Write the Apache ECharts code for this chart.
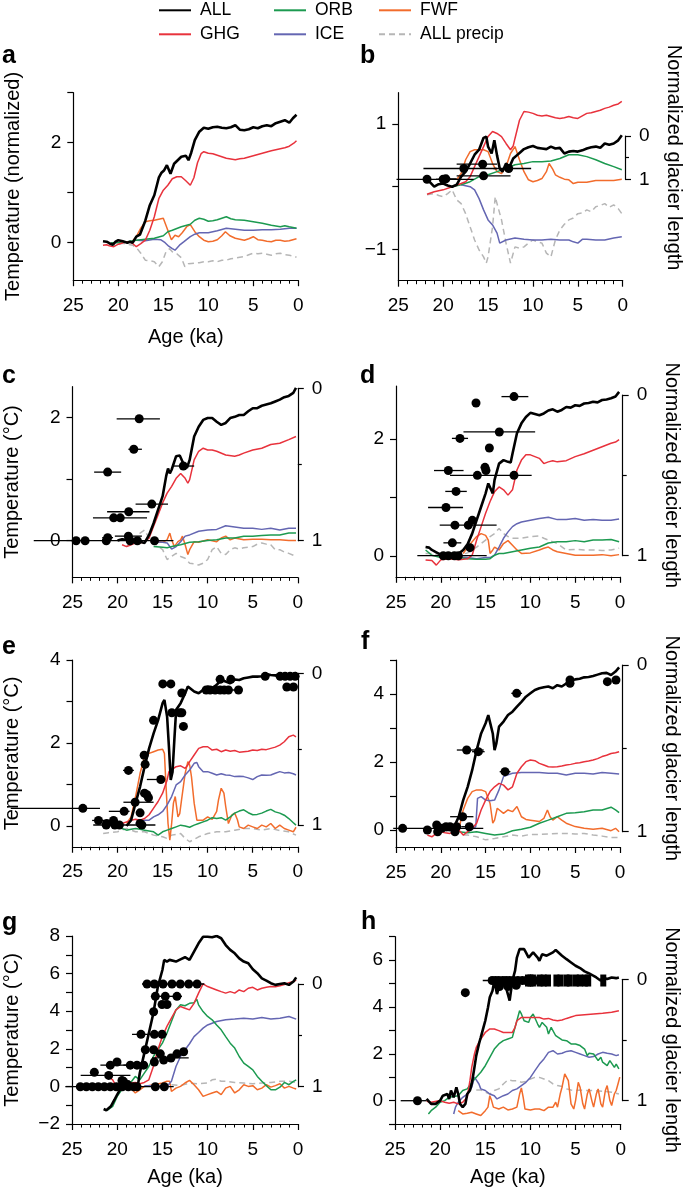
<!DOCTYPE html>
<html><head><meta charset="utf-8">
<script src="https://cdn.jsdelivr.net/npm/echarts@6/dist/echarts.min.js"></script>
<style>html,body{margin:0;padding:0;background:#fff}#c{width:685px;height:1188px}</style>
</head><body><div id="c"></div>
<script>
// ---------------- DATA: [age (ka), value] ----------------
const a_ALL=[[21.7,0.03],[21.3,0.02],[21,-0.01],[20.6,-0.04],[20.3,0.02],[20,0.05],[19.5,0.03],[19,0.0],[18.7,0.02],[18.4,0.0],[18,0.12],[17.6,0.16],[17.3,0.3],[17,0.44],[16.5,0.75],[16,0.95],[15.5,1.3],[15.2,1.4],[14.9,1.45],[14.6,1.55],[14.2,1.38],[13.8,1.58],[13.4,1.65],[13,1.72],[12.5,1.74],[12.2,1.65],[11.9,1.8],[11.5,2.05],[11,2.22],[10.5,2.3],[10,2.28],[9.5,2.31],[9,2.32],[8.5,2.3],[8,2.29],[7.5,2.31],[7,2.35],[6.5,2.26],[6,2.25],[5.5,2.27],[5,2.31],[4.5,2.29],[4,2.33],[3.5,2.35],[3,2.33],[2.5,2.39],[2,2.42],[1.5,2.45],[1,2.4],[0.6,2.49],[0.2,2.56]];
const a_GHG=[[21.7,-0.05],[21.3,-0.04],[21,-0.06],[20.5,-0.08],[20,-0.03],[19.5,0],[19,0.02],[18.5,0],[18,-0.08],[17.5,-0.02],[17,0.05],[16.5,0.25],[16,0.52],[15.5,0.88],[15,1.05],[14.5,1.15],[14,1.28],[13.5,1.32],[13,1.32],[12.5,1.24],[12,1.15],[11.6,1.3],[11.2,1.6],[10.8,1.78],[10.5,1.82],[10,1.79],[9.5,1.78],[9,1.75],[8.5,1.72],[8,1.69],[7,1.66],[6.5,1.68],[6,1.69],[5,1.74],[4,1.79],[3,1.84],[2,1.88],[1.5,1.9],[1,1.93],[0.5,1.99],[0.2,2.04]];
const a_ORB=[[20.8,0.0],[20,0.0],[19,0.02],[18,0.05],[17,0.07],[16,0.09],[15,0.14],[14.5,0.22],[14,0.25],[13,0.32],[12,0.37],[11.5,0.45],[11,0.49],[10.5,0.47],[10,0.43],[9.5,0.44],[9,0.46],[8.5,0.49],[8,0.52],[7.5,0.48],[7,0.46],[6,0.45],[5,0.42],[4,0.39],[3,0.35],[2,0.32],[1.5,0.34],[1,0.32],[0.2,0.29]];
const a_ICE=[[18,0.05],[17,0.04],[16,0.07],[15.3,0.06],[14.8,0.0],[14.4,-0.07],[14,-0.12],[13.7,-0.15],[13.2,-0.05],[12.7,0.02],[12,0.12],[11.5,0.17],[11,0.2],[10,0.2],[9,0.24],[8,0.29],[7,0.27],[6,0.25],[5,0.25],[4,0.26],[3,0.26],[2,0.27],[1,0.29],[0.2,0.29]];
const a_FWF=[[18.6,0.0],[18,0.12],[17.5,0.29],[17,0.42],[16.5,0.44],[16,0.45],[15.5,0.47],[15,0.49],[14.8,0.45],[14.5,0.25],[14.1,0.06],[13.7,0.15],[13.3,0.12],[12.9,0.2],[12.4,0.32],[12,0.36],[11.5,0.22],[11,0.12],[10.5,0.05],[10,0.02],[9.5,0.03],[9,0.06],[8.5,0.14],[8.1,0.22],[7.6,0.14],[7,0.09],[6.5,0.07],[6,0.05],[5.5,0.08],[5,0.12],[4.5,0.06],[4,0.05],[3.5,0.03],[3,0.02],[2.5,0.05],[2,0.05],[1.5,0.03],[1,0.04],[0.2,0.08]];
const a_PRE=[[21,-0.02],[20.3,-0.05],[19.5,-0.01],[19,-0.03],[18.4,-0.05],[17.9,-0.12],[17.5,-0.21],[17,-0.35],[16.5,-0.36],[16,-0.38],[15.5,-0.48],[15.1,-0.38],[14.7,-0.18],[14.3,-0.12],[14,-0.18],[13.5,-0.22],[13,-0.3],[12.6,-0.48],[12.2,-0.42],[11.5,-0.41],[11,-0.4],[10.5,-0.38],[10,-0.38],[9.5,-0.36],[9,-0.38],[8.5,-0.35],[8,-0.35],[7.5,-0.32],[7,-0.31],[6.5,-0.29],[6,-0.28],[5.5,-0.24],[5,-0.21],[4.5,-0.22],[4,-0.21],[3.5,-0.23],[3,-0.25],[2.5,-0.22],[2,-0.21],[1.5,-0.24],[1,-0.25],[0.5,-0.27],[0.2,-0.29]];

const b_ALL=[[21.8,0.12],[21.4,0.06],[21,0.0],[20.5,0.04],[20,0.05],[19.5,0.02],[19,0.0],[18.5,0.03],[18,0.16],[17.5,0.24],[17,0.37],[16.5,0.51],[16,0.59],[15.5,0.78],[15.2,0.8],[15,0.64],[14.6,0.53],[14.3,0.74],[14,0.5],[13.7,0.29],[13.4,0.24],[13,0.37],[12.6,0.32],[12.2,0.45],[11.8,0.5],[11.4,0.55],[11,0.6],[10.5,0.63],[10,0.65],[9.5,0.62],[9,0.61],[8.5,0.6],[8,0.64],[7.5,0.61],[7,0.62],[6.5,0.53],[6,0.56],[5.5,0.57],[5,0.56],[4.5,0.58],[4,0.61],[3.5,0.63],[3,0.64],[2.5,0.62],[2,0.69],[1.5,0.67],[1,0.69],[0.5,0.74],[0.1,0.82]];
const b_GHG=[[21.8,-0.12],[21,-0.08],[20,-0.05],[19,0.0],[18,0.05],[17.5,0.08],[17,0.16],[16.5,0.32],[16,0.48],[15.5,0.64],[15,0.8],[14.5,0.88],[14,0.85],[13.5,0.8],[13,0.69],[12.5,0.59],[12.2,0.65],[12,0.77],[11.5,1.06],[11,1.2],[10.5,1.19],[10,1.17],[9.5,1.14],[9,1.13],[8.5,1.14],[8,1.12],[7.5,1.1],[7,1.09],[6.5,1.1],[6,1.12],[5.5,1.1],[5,1.09],[4.5,1.13],[4,1.17],[3.5,1.18],[3,1.2],[2.5,1.22],[2,1.25],[1.5,1.27],[1,1.3],[0.5,1.32],[0.1,1.36]];
const b_ORB=[[19,0],[18,0.03],[17,0.08],[16,0.16],[15,0.19],[14,0.24],[13,0.29],[12,0.35],[11,0.37],[10,0.4],[9,0.4],[8,0.41],[7,0.45],[6,0.51],[5,0.51],[4,0.48],[3,0.43],[2,0.37],[1,0.32],[0.1,0.27]];
const b_ICE=[[18,0.03],[17,0.0],[16.5,-0.05],[16,-0.19],[15.5,-0.37],[15,-0.53],[14.5,-0.61],[14,-0.74],[13.7,-0.9],[13,-0.85],[12,-0.82],[11,-0.84],[10,-0.85],[9,-0.85],[8,-0.84],[7,-0.85],[6,-0.85],[5.5,-0.88],[5,-0.9],[4.5,-0.84],[4,-0.84],[3,-0.85],[2,-0.85],[1,-0.82],[0.1,-0.8]];
const b_FWF=[[18.5,0.11],[18,0.21],[17.5,0.43],[17,0.56],[16.5,0.59],[16,0.59],[15.5,0.59],[15,0.56],[14.5,0.37],[14,0.24],[13.5,0.21],[13,0.32],[12.5,0.53],[12,0.64],[11.5,0.43],[11,0.24],[10.5,0.11],[10,0.08],[9.5,0.1],[9,0.13],[8.5,0.24],[8.2,0.37],[7.8,0.28],[7.5,0.19],[7,0.15],[6.5,0.12],[6,0.11],[5.5,0.05],[5,0.07],[4,0.07],[3,0.1],[2,0.1],[1,0.1],[0.1,0.12]];
const b_PRE=[[21.8,-0.13],[21,-0.11],[20.5,-0.14],[20,-0.16],[19.5,-0.11],[19,-0.05],[18.5,-0.21],[18,-0.27],[17.5,-0.43],[17,-0.64],[16.5,-0.85],[16,-1.01],[15.5,-1.12],[15.2,-1.22],[15,-1.12],[14.5,-0.64],[14.2,-0.16],[14,-0.27],[13.5,-0.53],[13,-0.9],[12.5,-1.22],[12,-0.96],[11.5,-0.98],[11,-0.96],[10.5,-0.9],[10,-0.85],[9.5,-0.88],[9,-0.9],[8.5,-1.06],[8,-1.12],[7.5,-0.85],[7,-0.69],[6.5,-0.6],[6,-0.53],[5.5,-0.5],[5,-0.43],[4.5,-0.42],[4,-0.37],[3.5,-0.4],[3,-0.32],[2.5,-0.3],[2,-0.27],[1.5,-0.33],[1,-0.29],[0.5,-0.35],[0.1,-0.43]];

const c_ALL=[[20,0.0],[19.5,0.02],[19,0.01],[18.5,0.0],[18,0.0],[17.5,-0.02],[17,-0.04],[16.5,0.09],[16,0.28],[15.5,0.5],[15,0.72],[14.6,1.05],[14.4,1.17],[14.2,1.09],[14,1.15],[13.5,1.37],[13.1,1.38],[12.7,1.25],[12.3,1.18],[12,1.31],[11.5,1.69],[11,1.85],[10.5,1.96],[10,1.99],[9.5,1.99],[9,1.93],[8.5,1.88],[8,1.91],[7.5,1.99],[7,2.01],[6.5,2.04],[6,2.04],[5.5,2.1],[5,2.15],[4.5,2.15],[4,2.19],[3.5,2.21],[3,2.23],[2.5,2.26],[2,2.29],[1.5,2.33],[1,2.35],[0.5,2.4],[0.2,2.48]];
const c_GHG=[[19.5,-0.07],[19,-0.1],[18.5,-0.07],[18,-0.04],[17,-0.03],[16.5,0.04],[16,0.23],[15.5,0.42],[15,0.61],[14.5,0.77],[14,0.88],[13.5,1.01],[13,1.09],[12.5,1.01],[12.2,0.93],[12,0.99],[11.5,1.31],[11,1.45],[10.5,1.5],[10,1.47],[9.5,1.47],[9,1.45],[8,1.39],[7,1.37],[6.5,1.39],[6,1.42],[5,1.47],[4,1.5],[3,1.56],[2,1.58],[1,1.64],[0.2,1.69]];
const c_ORB=[[16,-0.1],[15,-0.11],[14.5,-0.12],[14,-0.1],[13,-0.07],[12,-0.03],[11,-0.02],[10,0],[9,0.01],[8,0.04],[7,0.04],[6,0.07],[5,0.07],[4,0.08],[3,0.09],[2,0.09],[1,0.12],[0.2,0.12]];
const c_ICE=[[16,-0.02],[15,-0.03],[14.5,-0.04],[14,-0.14],[13.5,-0.1],[13,-0.02],[12.5,0.07],[12,0.09],[11,0.15],[10,0.17],[9,0.18],[8,0.24],[7,0.22],[6,0.2],[5,0.2],[4,0.18],[3,0.2],[2,0.17],[1,0.2],[0.2,0.2]];
const c_FWF=[[16,-0.02],[15,-0.03],[14.5,0.01],[14.2,0.12],[14,0.01],[13.7,-0.1],[13.3,-0.02],[13,0.01],[12.8,0.07],[12.5,-0.07],[12.2,-0.23],[12,-0.15],[11.5,-0.02],[11,-0.03],[10,0.01],[9,-0.02],[8.5,0.04],[8,0.07],[7.5,0.01],[7,0.04],[6,0.01],[5,0.02],[4,0.02],[3,0.01],[2,0.01],[1,0.0],[0.2,0.0]];
const c_PRE=[[19,-0.1],[18.5,0.01],[18,0.01],[17.5,0.12],[17,0.17],[16.5,0.04],[16,-0.04],[15,-0.15],[14.5,-0.31],[14,-0.26],[13.5,-0.21],[13,-0.26],[12.5,-0.29],[12,-0.37],[11.5,-0.38],[11,-0.4],[10.5,-0.37],[10,-0.31],[9.5,-0.15],[9,-0.1],[8.5,-0.21],[8,-0.23],[7.5,-0.15],[7,-0.12],[6.5,-0.14],[6,-0.12],[5.5,-0.11],[5,-0.1],[4.5,-0.06],[4,-0.04],[3.5,-0.06],[3,-0.07],[2.5,-0.15],[2,-0.15],[1.5,-0.19],[1,-0.21],[0.5,-0.24],[0.2,-0.26]];

const d_ALL=[[21.7,0.15],[21.3,0.14],[21,0.1],[20.5,0.06],[20,0.02],[19.5,0.01],[19,0.0],[18.5,0.01],[18,0.04],[17.5,0.1],[17,0.2],[16.5,0.38],[16,0.61],[15.5,0.84],[15,1.07],[14.7,1.24],[14.5,1.27],[14.2,1.07],[14,1.3],[13.5,1.58],[13,1.64],[12.5,1.61],[12.2,1.6],[12,1.75],[11.5,2.1],[11,2.27],[10.5,2.38],[10,2.45],[9.5,2.43],[9,2.41],[8.5,2.44],[8,2.49],[7.5,2.51],[7,2.47],[6.5,2.5],[6,2.55],[5.5,2.54],[5,2.58],[4.5,2.57],[4,2.61],[3.5,2.62],[3,2.64],[2.5,2.63],[2,2.67],[1.5,2.68],[1,2.7],[0.5,2.73],[0.1,2.81]];
const d_GHG=[[21.7,-0.07],[21,-0.08],[20.5,-0.16],[20,-0.07],[19,-0.05],[18,-0.07],[17,-0.05],[16.5,0.01],[16,0.27],[15.5,0.5],[15,0.73],[14.5,0.93],[14,1.1],[13.5,1.18],[13,1.13],[12.5,1.04],[12,1.13],[11.5,1.47],[11,1.64],[10.5,1.73],[10,1.73],[9.5,1.7],[9,1.67],[8.5,1.58],[8,1.61],[7.5,1.63],[7,1.61],[6,1.63],[5,1.7],[4,1.75],[3,1.81],[2,1.87],[1,1.93],[0.5,1.95],[0.1,1.99]];
const d_ORB=[[21.7,0.1],[21,0.01],[20,-0.03],[19,-0.05],[18,-0.03],[17,-0.05],[16,-0.06],[15,-0.06],[14.5,-0.05],[14,0.01],[13.5,0.04],[13,0.04],[12,0.07],[11,0.1],[10,0.13],[9,0.15],[8,0.22],[7,0.24],[6,0.24],[5,0.26],[4,0.24],[3,0.27],[2,0.27],[1,0.28],[0.1,0.24]];
const d_ICE=[[18,-0.02],[17,-0.03],[16,-0.05],[15,-0.03],[14.5,-0.03],[14,0.01],[13.5,0.15],[13,0.3],[12.5,0.41],[12,0.5],[11.5,0.55],[11,0.58],[10,0.61],[9,0.64],[8,0.66],[7,0.62],[6,0.62],[5,0.64],[4,0.61],[3,0.62],[2,0.61],[1,0.61],[0.1,0.63]];
const d_FWF=[[17.5,0.04],[17,0.15],[16.5,0.24],[16,0.33],[15.5,0.38],[15,0.35],[14.7,0.27],[14.5,0.04],[14.2,0.1],[14,0.15],[13.5,0.1],[13,0.21],[12.5,0.26],[12,0.18],[11.5,0.1],[11,0.04],[10,0.05],[9,0.1],[8.5,0.13],[8,0.15],[7.5,0.1],[7,0.07],[6,0.04],[5,0.01],[4,0.01],[3,0.01],[2,0.02],[1,0.0],[0.1,0.02]];
const d_PRE=[[21.7,0.04],[21,0.04],[20,0.01],[19,0.04],[18,0.01],[17,0.05],[16.5,0.1],[16,0.15],[15.5,0.21],[15,0.27],[14.5,0.33],[14,0.38],[13.5,0.47],[13,0.38],[12.5,0.33],[12,0.3],[11,0.3],[10,0.33],[9,0.34],[8.5,0.3],[8,0.27],[7,0.21],[6,0.1],[5,0.11],[4,0.1],[3,0.1],[2,0.09],[1,0.1],[0.1,0.13]];

const e_ALL=[[19,0.0],[18.5,0.14],[18,0.55],[17.5,0.95],[17,1.43],[16.5,1.87],[16,2.23],[15.5,2.55],[15,2.96],[14.8,3.04],[14.5,2.63],[14.3,1.91],[14.1,1.11],[13.9,1.3],[13.7,2.07],[13.5,2.8],[13,2.96],[12.5,3.2],[12.2,3.36],[12,3.32],[11.5,3.24],[11,3.2],[10.5,3.28],[10,3.36],[9.5,3.32],[9,3.4],[8.5,3.52],[8,3.48],[7.5,3.44],[7,3.53],[6.5,3.52],[6,3.56],[5.5,3.58],[5,3.6],[4.5,3.6],[4,3.61],[3.5,3.66],[3,3.64],[2.5,3.63],[2,3.64],[1.5,3.63],[1,3.64],[0.5,3.66],[0.2,3.69]];
const e_GHG=[[19.5,0.06],[19,0.1],[18.5,0.14],[18,0.16],[17.5,0.14],[17,0.18],[16.5,0.27],[16,0.43],[15.5,0.59],[15,0.79],[14.5,1.11],[14.3,1.31],[14,1.35],[13.5,1.43],[13,1.45],[12.5,1.39],[12.2,1.47],[12,1.55],[11.5,1.71],[11,1.87],[10.5,1.91],[10,1.91],[9.5,1.83],[9,1.85],[8.5,1.79],[8,1.83],[7.5,1.8],[7,1.82],[6.5,1.78],[6,1.79],[5.5,1.8],[5,1.83],[4.5,1.82],[4,1.85],[3.5,1.84],[3,1.87],[2.5,1.9],[2,1.95],[1.5,2.03],[1,2.15],[0.5,2.19],[0.2,2.15]];
const e_ORB=[[20,-0.03],[19.5,-0.06],[19,-0.1],[18.5,-0.08],[18,-0.06],[17.5,-0.08],[17,-0.1],[16.5,-0.12],[16,-0.14],[15.5,-0.22],[15,-0.14],[14.5,-0.1],[14,-0.06],[13.5,-0.02],[13,0.02],[12.5,0.0],[12,-0.03],[11.5,0.02],[11,0.06],[10.5,0.1],[10,0.14],[9.5,0.2],[9,0.18],[8.5,0.2],[8,0.14],[7.5,0.22],[7,0.31],[6.5,0.36],[6,0.39],[5.5,0.32],[5,0.27],[4.5,0.28],[4,0.31],[3.5,0.36],[3,0.4],[2.5,0.34],[2,0.31],[1.5,0.26],[1,0.18],[0.5,0.08],[0.2,0.02]];
const e_ICE=[[18,0.06],[17,0.14],[16.5,0.14],[16,0.22],[15.5,0.27],[15,0.35],[14.5,0.51],[14,0.71],[13.5,0.99],[13,1.07],[12.5,1.23],[12,1.35],[11.5,1.51],[11.2,1.53],[11,1.43],[10.5,1.31],[10,1.31],[9.5,1.27],[9,1.23],[8.5,1.26],[8,1.23],[7.5,1.22],[7,1.19],[6.5,1.2],[6,1.19],[5.5,1.16],[5,1.12],[4.5,1.19],[4,1.23],[3.5,1.22],[3,1.23],[2.5,1.27],[2,1.31],[1.5,1.28],[1,1.29],[0.5,1.26],[0.2,1.23]];
const e_FWF=[[19,0.06],[18.5,0.22],[18,0.71],[17.5,1.27],[17,1.67],[16.5,1.75],[16,1.79],[15.5,1.83],[15,1.85],[14.8,1.75],[14.6,0.87],[14.4,0.06],[14.2,-0.34],[14,0.06],[13.8,0.55],[13.6,0.71],[13.3,0.22],[13.1,0.3],[12.9,0.63],[12.5,1.27],[12.2,1.55],[12,1.47],[11.8,1.19],[11.5,0.55],[11.2,0.14],[11,0.1],[10.5,0.14],[10,0.22],[9.5,0.16],[9,0.35],[8.8,0.63],[8.5,0.91],[8.2,0.79],[8,0.47],[7.7,0.06],[7.5,0.1],[7.3,0.27],[7,0.31],[6.7,0.15],[6.5,-0.02],[6,-0.06],[5.5,0.02],[5,-0.02],[4.5,-0.06],[4,0.02],[3.5,-0.02],[3,0.06],[2.5,-0.06],[2,0.02],[1.5,-0.06],[1,-0.1],[0.5,-0.14],[0.2,-0.03]];
const e_PRE=[[21.6,-0.18],[21,-0.16],[20,-0.14],[19,-0.06],[18,-0.14],[17,-0.14],[16,-0.22],[15,-0.26],[14.5,-0.3],[14,-0.22],[13,-0.18],[12.5,-0.3],[12,-0.38],[11.5,-0.32],[11,-0.26],[10,-0.18],[9,-0.14],[8,-0.14],[7,-0.1],[6,-0.06],[5,-0.06],[4,-0.1],[3,-0.06],[2,-0.11],[1,-0.14],[0.2,-0.22]];

const f_ALL=[[19.5,0.0],[19,0.0],[18.5,0.1],[18,0.39],[17.5,0.88],[17,1.27],[16.5,1.76],[16,2.35],[15.5,2.84],[15,3.14],[14.7,3.38],[14.5,3.33],[14.2,2.84],[14,2.35],[13.8,2.55],[13.5,3.04],[13,3.19],[12.5,3.38],[12,3.48],[11.5,3.63],[11,3.77],[10.5,3.92],[10,4.02],[9.5,4.12],[9,4.17],[8.5,4.2],[8,4.22],[7.5,4.17],[7,4.26],[6.5,4.22],[6,4.31],[5.5,4.39],[5,4.43],[4.5,4.45],[4,4.49],[3.5,4.5],[3,4.53],[2.5,4.57],[2,4.61],[1.5,4.62],[1,4.56],[0.5,4.66],[0.1,4.78]];
const f_GHG=[[21.5,-0.15],[21,-0.2],[20.5,-0.1],[20,-0.05],[19.5,-0.08],[19,-0.1],[18.5,-0.05],[18,0.0],[17.5,-0.15],[17,-0.05],[16.5,0.05],[16,0.2],[15.5,0.59],[15,0.88],[14.5,1.13],[14,1.27],[13.5,1.37],[13,1.32],[12.5,1.18],[12,1.27],[11.5,1.67],[11,1.86],[10.5,2.01],[10,2.06],[9.5,2.04],[9,1.96],[8.5,1.91],[8,1.86],[7.5,1.85],[7,1.86],[6.5,1.88],[6,1.91],[5.5,1.93],[5,1.96],[4.5,1.98],[4,2.01],[3.5,2.03],[3,2.06],[2.5,2.1],[2,2.16],[1.5,2.2],[1,2.25],[0.5,2.27],[0.1,2.3]];
const f_ORB=[[19,0.0],[18,-0.05],[17,-0.08],[16,-0.05],[15,-0.1],[14,-0.15],[13,-0.12],[12,-0.02],[11,0.02],[10,0.08],[9,0.2],[8,0.29],[7,0.39],[6,0.49],[5,0.51],[4,0.54],[3,0.59],[2,0.59],[1,0.67],[0.5,0.59],[0.1,0.51]];
const f_ICE=[[17,-0.05],[16.5,0.02],[16.1,0.1],[15.9,0.93],[15.5,0.98],[15,0.88],[14.5,0.86],[14,0.88],[13.5,1.18],[13,1.57],[12.5,1.62],[12,1.67],[11,1.69],[10,1.69],[9,1.69],[8,1.67],[7,1.67],[6,1.62],[5,1.67],[4,1.67],[3,1.65],[2,1.69],[1,1.67],[0.1,1.65]];
const f_FWF=[[18,0.0],[17.5,0.59],[17,0.93],[16.5,1.13],[16,1.18],[15.5,1.18],[15,1.13],[14.5,0.78],[14.2,0.2],[14,0.29],[13.7,0.64],[13.5,0.59],[13,0.49],[12.5,0.59],[12,0.54],[11.5,0.69],[11,0.39],[10.5,0.31],[10,0.29],[9,0.25],[8.5,0.34],[8.1,0.59],[7.8,0.39],[7.5,0.29],[7,0.39],[6.5,0.29],[6,0.2],[5,0.1],[4,0.05],[3,0.02],[2,0.05],[1,-0.02],[0.5,0.05],[0.1,-0.05]];
const f_PRE=[[17.5,-0.15],[17,-0.15],[16,-0.2],[15,-0.29],[14,-0.25],[13,-0.2],[12,-0.15],[11,-0.18],[10,-0.13],[9,-0.13],[8,-0.12],[7,-0.1],[6,-0.1],[5,-0.12],[4,-0.1],[3,-0.15],[2,-0.18],[1,-0.22],[0.1,-0.22]];

const g_ALL=[[21.5,-1.2],[21.2,-1.27],[21,-1.24],[20.7,-1.06],[20.5,-1.06],[20.3,-0.71],[20,-0.44],[19.7,-0.18],[19.5,0.09],[19.2,0.18],[19,0.09],[18.7,0.27],[18.5,0.18],[18.2,0.0],[18,-0.09],[17.7,0.09],[17.5,0.71],[17,1.77],[16.5,2.83],[16,3.89],[15.5,5.31],[15,6.19],[14.8,6.73],[14.5,6.64],[14.2,6.73],[14,6.73],[13.5,6.64],[13,6.76],[12.5,6.87],[12,6.73],[11.5,7.17],[11,7.61],[10.5,7.96],[10,7.96],[9.5,7.93],[9,8.0],[8.5,7.88],[8,7.52],[7.5,7.26],[7,7.08],[6.5,6.81],[6,6.64],[5.5,6.55],[5,6.23],[4.5,6.02],[4,5.75],[3.5,5.63],[3,5.49],[2.5,5.4],[2,5.45],[1.5,5.49],[1,5.4],[0.5,5.58],[0.2,5.8]];
const g_GHG=[[21,0.53],[20.5,0.35],[20,-0.09],[19.5,0.0],[19,0.09],[18.5,0.18],[18,0.21],[17.5,0.14],[17,0.21],[16.5,0.35],[16,1.06],[15.5,1.95],[15,2.65],[14.5,3.19],[14,3.63],[13.5,4.07],[13,4.25],[12.5,4.16],[12,4.07],[11.5,4.42],[11,4.96],[10.5,5.45],[10,5.31],[9.5,5.22],[9,5.13],[8.5,5.04],[8,4.96],[7.5,5.04],[7,4.96],[6.5,5.13],[6,5.04],[5.5,5.22],[5,5.27],[4.5,5.13],[4,5.22],[3.5,5.27],[3,5.31],[2.5,5.3],[2,5.35],[1.5,5.42],[1,5.52],[0.5,5.58],[0.2,5.66]];
const g_ORB=[[21.3,-1.24],[21,-1.24],[20.5,-1.06],[20,-0.53],[19.5,-0.18],[19,0.09],[18.5,0.21],[18,0.53],[17.5,0.35],[17,0.71],[16.5,1.06],[16,1.59],[15.5,1.95],[15,2.3],[14.5,2.83],[14,3.45],[13.5,4.07],[13,4.34],[12.5,4.29],[12,4.42],[11.5,4.45],[11.2,4.64],[11,4.34],[10.5,3.98],[10,3.72],[9.5,3.54],[9,3.27],[8.5,3.01],[8,2.65],[7.5,2.3],[7,2.04],[6.5,1.59],[6,1.24],[5.5,1.06],[5,0.88],[4.5,0.53],[4,0.27],[3.5,0.04],[3,-0.18],[2.5,-0.18],[2,-0.04],[1.5,0.21],[1,0.09],[0.5,0.27],[0.2,0.35]];
const g_ICE=[[17,0.04],[16,0.04],[15,0.0],[14.5,0.0],[14,0.27],[13.5,1.06],[13,1.59],[12.5,1.95],[12,2.27],[11.5,2.65],[11,2.87],[10.5,3.1],[10,3.27],[9.5,3.36],[9,3.45],[8,3.54],[7,3.58],[6,3.63],[5,3.58],[4,3.66],[3,3.58],[2,3.63],[1,3.72],[0.2,3.58]];
const g_FWF=[[20.5,0.0],[20,-0.09],[19.5,0.18],[19,0.0],[18.5,-0.09],[18,-0.35],[17.5,-0.18],[17,0.0],[16,0.09],[15,0.18],[14.5,0.27],[14.2,0.27],[14,-0.27],[13.5,-0.09],[13,0.0],[12.5,0.18],[12,0.32],[11.5,0.09],[11,-0.18],[10.5,-0.53],[10,-0.44],[9.5,-0.35],[9,-0.27],[8.5,-0.44],[8,-0.09],[7.5,0.0],[7,-0.35],[6.5,-0.18],[6,0.09],[5.5,0.0],[5,0.04],[4.5,-0.18],[4,-0.09],[3.5,0.09],[3,-0.04],[2.5,0.04],[2,0.14],[1.5,-0.09],[1,0.0],[0.5,-0.09],[0.2,-0.14]];
const g_PRE=[[14,0.09],[13,0.04],[12,0.18],[11,0.14],[10,0.18],[9.5,0.35],[9,0.39],[8.5,0.27],[8,0.27],[7,0.21],[6,0.18],[5,0.14],[4,0.18],[3,0.21],[2,0.27],[1,0.27],[0.2,0.21]];

const h_ALL=[[21.5,0.07],[21,-0.14],[20.5,-0.14],[20,0.0],[19.7,0.21],[19.5,0.14],[19.2,0.28],[19,0.07],[18.8,0.43],[18.5,0.14],[18.2,0.57],[18,0.28],[17.8,-0.14],[17.5,-0.28],[17.2,-0.14],[17,0.28],[16.7,0.43],[16.5,0.71],[16.2,1.42],[16,1.92],[15.7,2.42],[15.5,2.7],[15.2,3.13],[15,3.41],[14.7,3.98],[14.5,4.41],[14.3,4.34],[14.2,4.69],[14,5.12],[13.7,4.55],[13.5,4.83],[13.2,5.12],[13,4.98],[12.7,4.83],[12.5,4.55],[12.3,4.27],[12,5.12],[11.7,5.55],[11.5,6.11],[11.2,6.47],[11,6.54],[10.7,6.47],[10.5,6.33],[10.2,6.11],[10,6.18],[9.7,6.33],[9.5,6.4],[9.2,6.11],[9,5.97],[8.7,6.25],[8.5,6.33],[8.2,6.19],[8,6.25],[7.5,6.33],[7.2,6.43],[7,6.37],[6.5,6.19],[6,6.04],[5.5,5.9],[5,5.76],[4.5,5.66],[4,5.52],[3.5,5.43],[3,5.33],[2.7,5.26],[2.5,5.33],[2.2,5.12],[2,5.26],[1.5,5.19],[1,5.26],[0.5,5.23],[0.2,5.26]];
const h_GHG=[[21.5,-0.03],[21,-0.07],[20,0.0],[19.5,-0.07],[19,-0.11],[18.5,-0.07],[18,-0.14],[17.5,-0.07],[17,0.14],[16.7,0.85],[16.5,1.42],[16.2,1.99],[16,2.27],[15.7,2.49],[15.5,2.63],[15,2.91],[14.5,3.06],[14,3.06],[13.5,2.99],[13,2.91],[12.5,2.91],[12,2.91],[11.7,3.13],[11.5,3.41],[11,3.55],[10.5,3.55],[10,3.55],[9,3.55],[8.5,3.48],[8,3.51],[7.5,3.44],[7,3.41],[6.5,3.44],[6,3.51],[5.5,3.57],[5,3.63],[4,3.67],[3,3.7],[2,3.73],[1,3.77],[0.2,3.84]];
const h_ORB=[[21.3,-0.57],[21,-0.43],[20.5,-0.28],[20,-0.07],[19.5,0.0],[19,0.14],[18.5,0.17],[18,0.21],[17.5,0.43],[17,0.5],[16.5,0.78],[16,1.0],[15.5,1.21],[15,1.49],[14.5,1.85],[14,2.2],[13.5,2.42],[13,2.56],[12.5,2.63],[12,2.7],[11.7,3.13],[11.5,3.41],[11.2,3.84],[11,3.7],[10.7,3.41],[10.5,3.48],[10.2,3.34],[10,3.55],[9.7,3.7],[9.5,3.63],[9.2,3.27],[9,3.13],[8.7,3.34],[8.5,3.41],[8.2,3.13],[8,2.84],[7.7,3.13],[7.5,3.13],[7.2,2.77],[7,2.7],[6.5,2.59],[6,2.56],[5.5,2.42],[5,2.42],[4.5,2.35],[4,2.2],[3.7,1.92],[3.5,2.02],[3,1.99],[2.5,1.71],[2.2,1.85],[2,1.64],[1.5,1.49],[1.2,1.71],[1,1.64],[0.7,1.42],[0.5,1.56],[0.2,1.35]];
const h_ICE=[[18.5,-0.57],[18.3,-0.28],[18,-0.07],[17.5,0.14],[17,0.28],[16.5,0.57],[16.2,1.0],[16,0.92],[15.7,0.71],[15.5,0.5],[15,0.43],[14.5,0.28],[14,0.21],[13.7,0.07],[13.5,0.14],[13,0.21],[12.5,0.28],[12,0.43],[11.5,0.5],[11,0.64],[10.5,0.78],[10,0.99],[9.5,1.28],[9,1.56],[8.5,1.78],[8,2.06],[7.5,2.13],[7,1.99],[6.5,2.02],[6,2.1],[5.5,2.13],[5,2.06],[4.5,1.99],[4,1.92],[3.5,1.85],[3,1.88],[2.5,1.99],[2,2.06],[1.5,2.02],[1,1.99],[0.5,1.92],[0.2,1.96]];
const h_FWF=[[18,-0.43],[17.5,-0.57],[17,-0.54],[16.5,-0.5],[16,-0.57],[15.5,-0.64],[15,-0.43],[14.7,-0.28],[14.5,0.21],[14.3,0.0],[14.1,-0.28],[14,-0.28],[13.5,-0.36],[13,-0.28],[12.5,-0.4],[12,-0.36],[11.5,-0.28],[11.2,0.28],[11,0.54],[10.8,0.14],[10.6,-0.36],[10.5,-0.4],[10,-0.4],[9.5,-0.36],[9,-0.36],[8.5,-0.43],[8,-0.28],[7.5,-0.28],[7.2,-0.07],[7,-0.28],[6.7,0.28],[6.5,0.57],[6.2,1.14],[6,1.21],[5.8,0.85],[5.5,-0.14],[5.2,-0.36],[5,0.0],[4.7,0.78],[4.5,0.57],[4.2,-0.14],[4,-0.36],[3.7,0.28],[3.5,0.5],[3.2,0.0],[3,-0.28],[2.7,0.28],[2.5,0.5],[2.2,-0.14],[2,-0.28],[1.7,0.43],[1.5,0.64],[1.2,0.0],[1,-0.21],[0.7,0.28],[0.5,0.43],[0.3,0.71],[0.1,1.0]];
const h_PRE=[[16,0.45],[15.5,0.45],[15,0.36],[14.5,0.28],[14,0.43],[13.5,0.5],[13,0.71],[12.5,0.88],[12,0.85],[11.5,0.85],[11,0.78],[10.5,0.82],[10,0.92],[9.5,0.99],[9,0.99],[8.5,0.92],[8,0.85],[7.5,0.71],[7,0.64],[6.5,0.6],[6,0.5],[5.5,0.45],[5,0.43],[4.5,0.45],[4,0.43],[3,0.43],[2,0.4],[1,0.36],[0.2,0.28]];

// glacier-length records: [age (ka), normalized length, older error, younger error]
const b_DOTS=[[21.8,1.0,3.4,5.2],[20.0,1.0,0.8,0.8],[19.7,0.99,0.8,1.2],[17.7,0.75,4.5,3.7],[15.6,0.65,2.9,1.6],[15.5,0.92,3.0,3.0],[12.7,0.75,1.7,2.5]];
const c_DOTS=[[24.6,1.0,4.7,10.8],[23.6,1.0,0,0],[21.25,1.0,0,0],[21.1,0.98,0.6,0.6],[18.8,0.97,1.5,1.5],[18.6,1.0,0,0],[17.8,1.0,0.5,0.5],[15.9,1.0,0,0],[17.6,0.2,2.5,2.3],[18.2,0.4,0.6,0.9],[21.1,0.55,1.5,1.5],[16.2,0.76,1.8,1.8],[18.76,0.81,2.4,2.3],[20.43,0.85,2.3,3.7],[19.7,0.85,0,0],[12.7,0.51,1.2,1.2]];
const d_DOTS=[[16.07,0.05,0,0],[11.83,0.01,1.4,1.6],[13.47,0.23,4.0,4.0],[17.86,0.27,0.9,0.9],[14.58,0.33,0,0],[15.07,0.45,0,0],[14.96,0.47,0.3,0.3],[19.16,0.47,1.6,1.7],[15.92,0.5,3.05,6.06],[11.83,0.5,0,0],[18.3,0.6,1.2,1.2],[19.42,0.7,2.0,1.9],[18.42,0.81,1.7,4.65],[16.93,0.81,0,0],[16.48,0.78,0,0],[18.71,0.92,1.0,1.0],[16.74,0.95,0,0],[19.72,1.0,2.9,4.84],[19.16,1.0,0,0],[18.49,1.0,0,0],[18.04,1.0,0,0]];
const e_DOTS=[[23.85,0.89,8.0,1.9],[22.12,0.97,0.7,0.7],[21.26,1.0,0,0],[21.2,0.99,0,0],[20.45,0.97,0,0],[20.3,1.0,0,0],[19.8,1.0,2.9,4.0],[19.27,0.91,1.7,0.6],[18.79,0.64,0.6,0.6],[18.05,0.85,1.3,2.05],[17.5,0.92,0,0],[17.5,0.99,0,0],[17.3,1.0,0,0],[17.01,0.79,0,0],[16.94,0.6,0,0],[17.05,0.54,0,0],[16.75,0.8,0,0],[16.57,0.82,0,0],[16.01,0.31,0,0],[15.2,0.7,1.55,0.3],[14.98,0.07,0,0],[14.09,0.07,0,0],[13.98,0.26,0,0],[13.1,0.26,0,0],[12.87,0.26,0,0],[12.69,0.35,0.3,0.3],[12.87,0.13,0,0],[10.17,0.11,0,0],[9.73,0.11,0,0],[9.17,0.11,0,0],[8.62,0.11,1.6,2.0],[8.17,0.11,0,0],[7.7,0.11,0,0],[6.58,0.11,0,0],[7.43,0.04,0,0],[8.62,0.04,0,0],[3.62,0.02,0,0],[1.96,0.02,0.5,1.8],[1.41,0.02,0,0],[0.85,0.02,0,0],[0.3,0.02,0,0],[1.22,0.09,0,0],[0.48,0.09,0,0]];
const f_DOTS=[[24.26,0.98,1.05,9.0],[21.5,0.99,0,0],[20.46,0.96,0,0],[20.35,1.0,0,0],[19.9,0.98,0,0],[19.42,0.97,0,0],[18.97,0.97,0,0],[18.42,1.0,0,0],[18.23,0.97,0,0],[17.56,0.91,1.4,1.2],[16.82,0.97,0.9,0.4],[17.11,0.51,1.1,1.9],[15.81,0.52,0.7,0.7],[11.53,0.17,0.6,0.6],[12.83,0.64,0.6,0.6],[5.58,0.09,0,0],[5.58,0.11,0,0],[1.41,0.1,0,0],[0.45,0.09,0,0]];
const g_DOTS=[[16.7,0,0,0],[15.89,0,0,0],[14.93,0,0,0],[13.94,0,3.32,3.58],[13.02,0,0,0],[12.09,0,0,0],[11.17,0,0,0],[15.78,0.12,0,0],[14.68,0.12,1.47,1.85],[13.39,0.12,0,0],[15.04,0.2,0,0],[14.49,0.2,0,0],[15.97,0.27,0,0],[17.37,0.49,0,0],[15.89,0.49,2.47,1.4],[15.04,0.49,0,0],[16.89,0.64,0,0],[15.97,0.64,0,0],[15.23,0.68,0,0],[12.65,0.66,0,0],[13.39,0.68,0,0],[14.05,0.72,2.1,1.96],[14.86,0.74,0,0],[15.89,0.76,0,0],[17.81,0.79,1.5,0.5],[18.55,0.79,0,0],[17.07,0.79,0,0],[20.02,0.76,0,0],[20.76,0.79,1.1,2.0],[22.53,0.86,0,0],[20.94,0.89,3.1,2.4],[19.47,0.94,0,0],[19.28,0.95,0,0],[24.08,1,0,0],[23.41,1,0,0],[22.75,1,0,0],[22.09,1,0,0],[21.42,1,0,0],[20.76,1,0,0],[20.1,1,5.64,6.35],[19.43,1,0,0],[18.77,1,0,0],[18.18,1,0,0],[17.81,1,0,0],[15.78,1,0,0],[14.79,1,0,0]];
const h_DOTS=[[22.51,1.0,1.86,1.0],[17.21,0.11,0,0],[14.24,0.01,1.04,5.26],[13.87,0.01,0,0],[13.5,0.01,0,0],[13.06,0.01,0,0],[12.69,0.01,0,0],[12.31,0.01,0,0],[11.87,0.01,0,0],[11.39,0.01,0,0],[10.9,0.01,0,0],[10.46,0.01,0,0],[9.53,0.01,0,0],[13.43,0.06,0,0],[12.5,0.06,0,0],[11.57,0.05,0,0]];
const h_BARS=[[10.27,0.01],[10.0,0.01],[9.72,0.01],[8.98,0.01],[8.53,0.01],[8.05,0.01],[7.12,0.01],[6.68,0.01],[6.01,0.01],[5.64,0.01],[4.97,0.01],[4.53,0.01],[3.97,0.01],[3.6,0.01],[1.93,0.01]];

const SERIES_NAMES=['ALL','GHG','ORB','ICE','FWF','ALL precip'];

// ---------------- LAYOUT ----------------
const FONT="'Liberation Sans', Arial, Helvetica, sans-serif";
const COLORS={'ALL':'#000000','GHG':'#e8323c','ORB':'#1c9a50','ICE':'#6466b2','FWF':'#f26c2c','ALL precip':'#b6b6b6'};
const panels=[
 {L:'a',lx:2,ly:43.5,g:{left:73.3,width:225,top:92.7,height:187.5},ymin:-0.75,ymax:3,yt:[0,1,2,3],yl:[0,2],yName:'Temperature (normalized)',xName:47,
  lines:{'ALL':a_ALL,'GHG':a_GHG,'ORB':a_ORB,'ICE':a_ICE,'FWF':a_FWF,'ALL precip':a_PRE},gl:null,dots:null},
 {L:'b',lx:360,ly:43.5,g:{left:398.3,width:224.4,top:92.7,height:188},ymin:-1.5,ymax:1.5,yt:[-1,0,1],yl:[-1,1],yName:'',xName:0,
  lines:{'ALL':b_ALL,'GHG':b_GHG,'ORB':b_ORB,'ICE':b_ICE,'FWF':b_FWF,'ALL precip':b_PRE},gl:{top:136,height:43.3,off:2.3,title:true},dots:b_DOTS},
 {L:'c',lx:2,ly:363.5,g:{left:72.5,width:225.3,top:386.7,height:190.65},ymin:-0.6,ymax:2.5,yt:[0,1,2],yl:[0,2],yName:'Temperature (°C)',xName:0,
  lines:{'ALL':c_ALL,'GHG':c_GHG,'ORB':c_ORB,'ICE':c_ICE,'FWF':c_FWF,'ALL precip':c_PRE},gl:{top:388.3,height:152.4,off:0,title:false},dots:c_DOTS},
 {L:'d',lx:360,ly:363.5,g:{left:396,width:224,top:386,height:190.8},ymin:-0.36,ymax:2.91,yt:[0,1,2],yl:[0,2],yName:'',xName:0,
  lines:{'ALL':d_ALL,'GHG':d_GHG,'ORB':d_ORB,'ICE':d_ICE,'FWF':d_FWF,'ALL precip':d_PRE},gl:{top:395,height:160.7,off:2.7,title:true},dots:d_DOTS},
 {L:'e',lx:2,ly:635,g:{left:72.5,width:225.3,top:660,height:186.75},ymin:-0.5,ymax:4,yt:[0,1,2,3,4],yl:[0,2,4],yName:'Temperature (°C)',xName:0,
  lines:{'ALL':e_ALL,'GHG':e_GHG,'ORB':e_ORB,'ICE':e_ICE,'FWF':e_FWF,'ALL precip':e_PRE},gl:{top:673.3,height:151.7,off:0,title:false},dots:e_DOTS},
 {L:'f',lx:361,ly:630,g:{left:396,width:224,top:660,height:187},ymin:-0.5,ymax:5,yt:[0,1,2,3,4,5],yl:[0,2,4],yName:'',xName:0,
  lines:{'ALL':f_ALL,'GHG':f_GHG,'ORB':f_ORB,'ICE':f_ICE,'FWF':f_FWF,'ALL precip':f_PRE},gl:{top:665,height:166.7,off:2.7,title:true},dots:f_DOTS},
 {L:'g',lx:2,ly:910.5,g:{left:72,width:226,top:936,height:188.3},ymin:-2,ymax:8,yt:[-2,-1,0,1,2,3,4,5,6,7,8],yl:[-2,0,2,4,6,8],yName:'Temperature (°C)',xName:43,
  lines:{'ALL':g_ALL,'GHG':g_GHG,'ORB':g_ORB,'ICE':g_ICE,'FWF':g_FWF,'ALL precip':g_PRE},gl:{top:984,height:102.7,off:0,title:false},dots:g_DOTS},
 {L:'h',lx:361,ly:910,g:{left:395,width:225.7,top:936.7,height:187.3},ymin:-1,ymax:7,yt:[-1,0,1,2,3,4,5,6,7],yl:[0,2,4,6],yName:'',xName:43,
  lines:{'ALL':h_ALL,'GHG':h_GHG,'ORB':h_ORB,'ICE':h_ICE,'FWF':h_FWF,'ALL precip':h_PRE},gl:{top:979.3,height:121.4,off:2,title:true},dots:h_DOTS,bars:h_BARS}
];

const fmt=v=>(v<0?'\u2212'+Math.abs(v):String(v));
const txt=(size)=>({fontSize:size,color:'#000',fontFamily:FONT});
const grid=[],xAxis=[],yAxis=[],series=[],graphic=[];
const axLine={show:true,onZero:false,lineStyle:{color:'#000',width:1.2}};

panels.forEach(p=>{
  const gi=grid.length;
  grid.push({left:p.g.left,width:p.g.width,top:p.g.top,height:p.g.height,containLabel:false});
  xAxis.push({gridIndex:gi,type:'value',min:0,max:25,interval:5,inverse:true,
    axisLine:axLine,axisTick:{show:true,length:6,lineStyle:{color:'#000',width:1.2}},
    minorTick:{show:true,splitNumber:5,length:3.5,lineStyle:{color:'#000',width:1}},
    splitLine:{show:false},minorSplitLine:{show:false},
    axisLabel:Object.assign({margin:16,showMinLabel:true,showMaxLabel:true},txt(19)),
    name:p.xName?'Age (ka)':'',nameLocation:'middle',nameGap:p.xName||0,nameTextStyle:txt(20)});
  yAxis.push({gridIndex:gi,type:'value',min:p.ymin,max:p.ymax,
    axisLine:axLine,axisTick:{show:true,length:6,customValues:p.yt,lineStyle:{color:'#000',width:1.2}},
    axisLabel:Object.assign({customValues:p.yl,formatter:fmt,margin:12},txt(19)),
    splitLine:{show:false},
    name:p.yName,nameLocation:'middle',nameRotate:90,nameGap:50,nameTextStyle:txt(20)});
  ['ALL precip','FWF','ICE','ORB','GHG','ALL'].forEach(n=>{
    series.push({type:'line',name:n,xAxisIndex:gi,yAxisIndex:gi,data:p.lines[n],
      showSymbol:false,symbol:'none',animation:false,z:n==='ALL'?4:3,
      lineStyle:{color:COLORS[n],width:n==='ALL'?2.6:1.5,type:n==='ALL precip'?[6,4]:'solid'},
      itemStyle:{color:COLORS[n]}});
  });
  graphic.push({type:'text',left:p.lx,top:p.ly,style:{text:p.L,font:'bold 25px '+FONT,fill:'#000'}});
  if(p.gl){
    const gj=grid.length;
    grid.push({left:p.g.left,width:p.g.width,top:p.gl.top,height:p.gl.height,containLabel:false});
    xAxis.push({gridIndex:gj,type:'value',min:0,max:25,inverse:true,show:false});
    yAxis.push({gridIndex:gj,type:'value',position:'right',offset:p.gl.off,inverse:true,min:0,max:1,interval:1,
      axisLine:axLine,axisTick:{show:true,length:6,lineStyle:{color:'#000',width:1.2}},
      minorTick:{show:true,splitNumber:2,length:4,lineStyle:{color:'#000',width:1.2}},
      splitLine:{show:false},minorSplitLine:{show:false},
      axisLabel:Object.assign({margin:14},txt(19)),
      name:p.gl.title?'Normalized glacier length':'',nameLocation:'middle',nameRotate:-90,nameGap:39,nameTextStyle:txt(20)});
    series.push({type:'custom',xAxisIndex:gj,yAxisIndex:gj,data:p.dots,encode:{x:0,y:1},clip:false,silent:true,z:6,
      renderItem:(params,api)=>{
        const a=api.value(0),v=api.value(1),eo=api.value(2),ey=api.value(3);
        if(!eo&&!ey) return null;
        const p1=api.coord([a+eo,v]),p2=api.coord([a-ey,v]);
        return {type:'line',shape:{x1:p1[0],y1:p1[1],x2:p2[0],y2:p2[1]},style:{stroke:'#000',lineWidth:1.3}};
      }});
    series.push({type:'scatter',xAxisIndex:gj,yAxisIndex:gj,data:p.dots.map(d=>[d[0],d[1]]),symbol:'circle',symbolSize:9,
      itemStyle:{color:'#000',opacity:1},clip:false,silent:true,z:7,animation:false});
    if(p.bars){
      series.push({type:'scatter',xAxisIndex:gj,yAxisIndex:gj,data:p.bars,symbol:'rect',symbolSize:[6,12],
        itemStyle:{color:'#000',opacity:1},clip:false,silent:true,z:7,animation:false});
    }
  }
});

const legendBase={orient:'vertical',top:1.3,itemWidth:32,itemHeight:14,itemGap:6,padding:0,selectedMode:false,
  itemStyle:{color:'rgba(0,0,0,0)',borderWidth:0,opacity:0},
  textStyle:Object.assign({padding:[0,0,0,4]},txt(17.5))};
const legend=[
  Object.assign({},legendBase,{left:158,data:['ALL','GHG']}),
  Object.assign({},legendBase,{left:273,data:['ORB','ICE']}),
  Object.assign({},legendBase,{left:378,data:['FWF','ALL precip']})
];

const chart=echarts.init(document.getElementById('c'),null,{renderer:'canvas'});
chart.setOption({animation:false,backgroundColor:'#fff',grid,xAxis,yAxis,series,legend,graphic});
</script></body></html>
